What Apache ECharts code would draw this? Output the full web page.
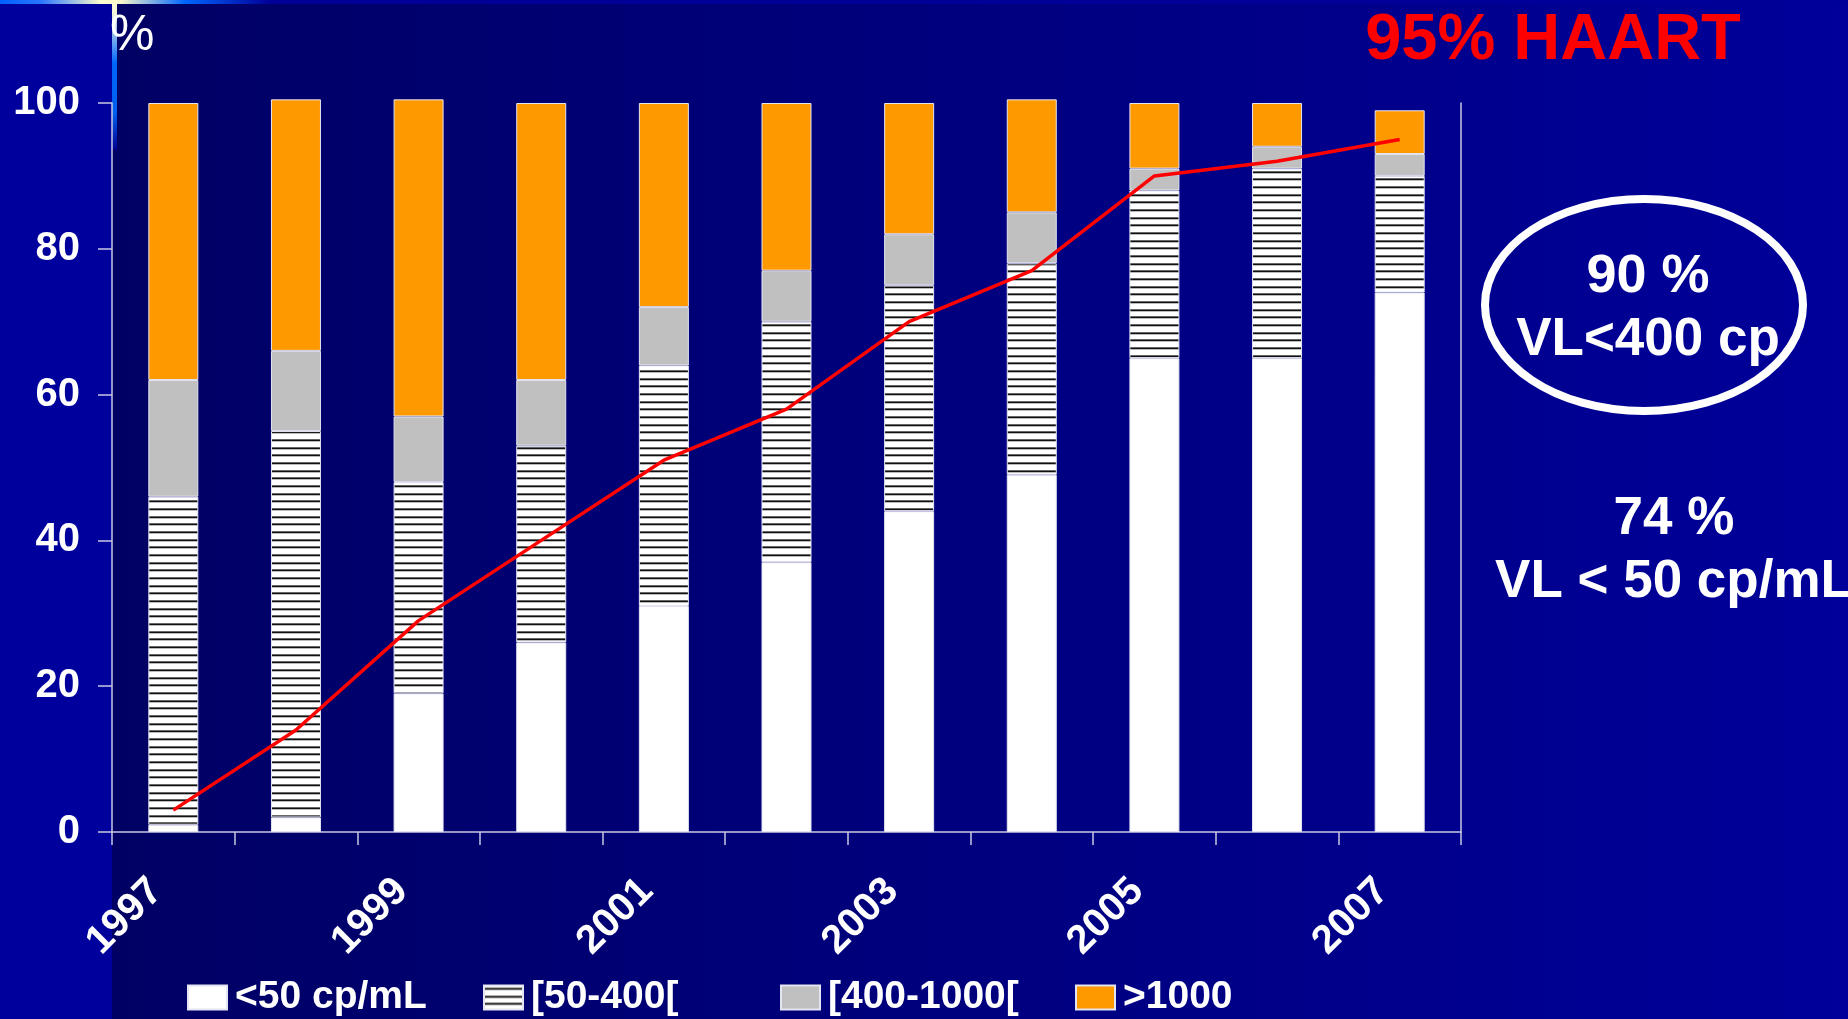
<!DOCTYPE html>
<html>
<head>
<meta charset="utf-8">
<title>Charge virale 1997-2007</title>
<script src="https://cdn.jsdelivr.net/npm/echarts@6/dist/echarts.min.js"></script>
<style>
  html, body { margin: 0; padding: 0; background: #000080; }
  #chart { width: 1848px; height: 1019px; }
</style>
</head>
<body>
<div id="chart"></div>
<script>
// Years on the category axis
const years = ['1997', '1998', '1999', '2000', '2001', '2002', '2003', '2004', '2005', '2006', '2007'];

// Share of patients (%) in each viral-load band, stacked bottom to top
const below50 = [1, 2, 19, 26, 31, 37, 44, 49, 65, 65, 74];
const from50to400 = [45, 53, 29, 27, 33, 33, 31, 29, 23, 26, 16];
const from400to1000 = [16, 11, 9, 9, 8, 7, 7, 7, 3, 3, 3];
const above1000 = [38, 34.5, 43.5, 38, 28, 23, 18, 15.5, 9, 6, 6];

// Share of patients on HAART (%)
const haart = [3, 14, 29, 40, 51, 58, 70, 77, 90, 92, 95];

// Band names shown in the legend
const bandNames = ['<50 cp/mL', '[50-400[', '[400-1000[', '>1000'];

const FONT = "'Liberation Sans', Arial, Helvetica, sans-serif";

// Horizontal-stripe fill used for the 50-400 band
function stripePattern() {
  const c = document.createElement('canvas');
  c.width = 8; c.height = 23;
  const g = c.getContext('2d');
  g.fillStyle = '#ffffff';
  g.fillRect(0, 0, 8, 23);
  [2, 10, 17].forEach(function (y) {
    g.fillStyle = '#666666'; g.fillRect(0, y, 8, 1);
    g.fillStyle = '#111111'; g.fillRect(0, y + 1, 8, 1);
    g.fillStyle = '#bbbbbb'; g.fillRect(0, y + 2, 8, 1);
  });
  return c;
}

const bandColors = ['#ffffff', { image: stripePattern(), repeat: 'repeat' }, '#c0c0c0', '#ff9900'];
const bandData = [below50, from50to400, from400to1000, above1000];
const legendLeft = [187, 483, 780, 1075];

const axisColor = '#c8c8e4';

const chart = echarts.init(document.getElementById('chart'), null, { renderer: 'canvas' });

const barSeries = bandNames.map(function (name, i) {
  return {
    name: name,
    type: 'bar',
    stack: 'vl',
    barWidth: 50,
    clip: false,
    data: bandData[i],
    itemStyle: { color: bandColors[i], borderColor: '#e4e4f2', borderWidth: 1 },
    emphasis: { disabled: true },
    z: 2
  };
});

const option = {
  animation: false,
  backgroundColor: {
    type: 'linear', x: 0, y: 0, x2: 1, y2: 0,
    colorStops: [
      { offset: 0, color: '#00005e' },
      { offset: 0.06, color: '#000064' },
      { offset: 1, color: '#00009a' }
    ]
  },
  grid: { left: 112, right: 387, top: 103, bottom: 187 },
  legend: bandNames.map(function (name, i) {
    return {
      data: [name],
      left: legendLeft[i],
      top: 978,
      padding: 0,
      itemWidth: 39,
      itemHeight: 24,
      icon: 'rect',
      selectedMode: false,
      textStyle: { color: '#ffffff', fontSize: 39, fontWeight: 'bold', fontFamily: FONT, padding: [0, 0, 0, 3] }
    };
  }),
  xAxis: {
    type: 'category',
    data: years,
    boundaryGap: true,
    axisLine: { show: true, lineStyle: { color: axisColor, width: 1.5 } },
    axisTick: { show: true, interval: 0, length: 13, lineStyle: { color: axisColor, width: 1.5 } },
    axisLabel: {
      interval: 1,
      rotate: 45,
      margin: 36,
      padding: [0, 24, 0, 0],
      color: '#ffffff',
      fontSize: 40,
      fontWeight: 'bold',
      fontFamily: FONT
    },
    splitLine: { show: false }
  },
  yAxis: [
    {
      type: 'value',
      min: 0,
      max: 100,
      interval: 20,
      position: 'left',
      axisLine: { show: true, lineStyle: { color: axisColor, width: 1.5 } },
      axisTick: { show: true, length: 14, lineStyle: { color: axisColor, width: 1.5 } },
      axisLabel: { margin: 32, color: '#ffffff', fontSize: 40, fontWeight: 'bold', fontFamily: FONT },
      splitLine: { show: false }
    },
    {
      type: 'value',
      min: 0,
      max: 100,
      interval: 20,
      position: 'right',
      axisLine: { show: true, lineStyle: { color: axisColor, width: 1.5 } },
      axisTick: { show: false },
      axisLabel: { show: false },
      splitLine: { show: false }
    }
  ],
  series: barSeries.concat([
    {
      name: 'HAART',
      type: 'line',
      data: haart,
      symbol: 'none',
      lineStyle: { color: '#ff0000', width: 3.5 },
      emphasis: { disabled: true },
      z: 10
    }
  ]),
  graphic: [
    // left margin panel
    { type: 'rect', z: -100, silent: true, shape: { x: 0, y: 0, width: 112, height: 1019 }, style: { fill: '#00009c' } },
    // thin highlight band across the top edge
    {
      type: 'rect', z: -90, silent: true,
      shape: { x: 0, y: 0, width: 1848, height: 4 },
      style: {
        fill: {
          type: 'linear', x: 0, y: 0, x2: 1, y2: 0,
          colorStops: [
            { offset: 0, color: '#0060ff' },
            { offset: 0.022, color: '#2a74ff' },
            { offset: 0.055, color: '#ffffcc' },
            { offset: 0.066, color: '#f4f4cc' },
            { offset: 0.1, color: '#0066ff' },
            { offset: 0.146, color: '#000099' },
            { offset: 1, color: '#000099' }
          ]
        }
      }
    },
    // short highlight band down the left edge of the plot
    {
      type: 'rect', z: -90, silent: true,
      shape: { x: 112, y: 0, width: 5, height: 150 },
      style: {
        fill: {
          type: 'linear', x: 0, y: 0, x2: 0, y2: 1,
          colorStops: [
            { offset: 0, color: '#ffffcc' },
            { offset: 0.1, color: '#f0f0dc' },
            { offset: 0.42, color: '#0066ff' },
            { offset: 0.75, color: '#0060f0' },
            { offset: 1, color: '#000090' }
          ]
        }
      }
    },
    { type: 'text', z: 100, x: 110, y: 36, style: { text: '%', fill: '#ffffff', fontSize: 50, fontFamily: FONT, align: 'left', verticalAlign: 'middle' } },
    { type: 'text', z: 100, x: 1553, y: 41, style: { text: '95% HAART', fill: '#ff0000', fontSize: 65, fontWeight: 'bold', fontFamily: FONT, align: 'center', verticalAlign: 'middle' } },
    { type: 'ellipse', z: 100, shape: { cx: 1644, cy: 305, rx: 159, ry: 106 }, style: { fill: 'none', stroke: '#ffffff', lineWidth: 8 } },
    { type: 'text', z: 100, x: 1648, y: 277, style: { text: '90 %', fill: '#ffffff', fontSize: 54, fontWeight: 'bold', fontFamily: FONT, align: 'center', verticalAlign: 'middle' } },
    { type: 'text', z: 100, x: 1648, y: 340, style: { text: 'VL<400 cp', fill: '#ffffff', fontSize: 53, fontWeight: 'bold', fontFamily: FONT, align: 'center', verticalAlign: 'middle' } },
    { type: 'text', z: 100, x: 1674, y: 519, style: { text: '74 %', fill: '#ffffff', fontSize: 53, fontWeight: 'bold', fontFamily: FONT, align: 'center', verticalAlign: 'middle' } },
    { type: 'text', z: 100, x: 1674, y: 582, style: { text: 'VL < 50 cp/mL', fill: '#ffffff', fontSize: 53, fontWeight: 'bold', fontFamily: FONT, align: 'center', verticalAlign: 'middle' } }
  ]
};

chart.setOption(option);
</script>
</body>
</html>
